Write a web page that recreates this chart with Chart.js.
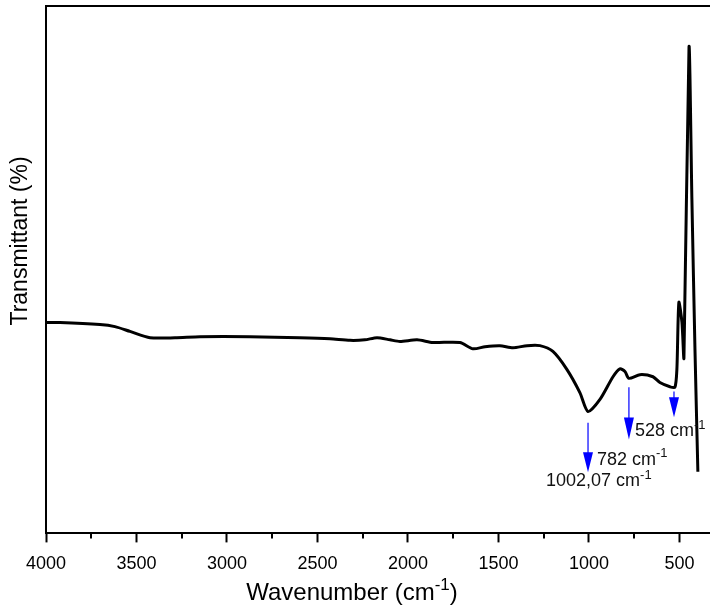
<!DOCTYPE html>
<html>
<head>
<meta charset="utf-8">
<script src="https://cdn.jsdelivr.net/npm/chart.js@4.4.0/dist/chart.umd.min.js"></script>
<style>
  body { margin: 0; background: #fff; }
  #wrap { width: 710px; height: 607px; }
</style>
</head>
<body>
<div id="wrap"><canvas id="ftirChart" width="710" height="607"></canvas></div>
<script>
// FTIR spectrum
const waveNumbers = [4000, 3923, 3702, 3619, 3536, 3425, 3287, 3149, 2873, 2597,
    2431, 2320, 2238, 2171, 2099, 2044, 1950, 1862, 1713, 1641,
    1574, 1492, 1420, 1342, 1271, 1199, 1122, 1050, 1005, 939,
    867, 829, 801, 779, 718, 646, 608, 552, 525, 514,
    503, 486, 475, 447, 431, 414, 398];
const transmittance = [40.0, 40.0, 39.6, 39.2, 38.3, 37.1, 37.1, 37.3, 37.3, 37.1,
    36.9, 36.6, 36.7, 37.1, 36.7, 36.4, 36.7, 36.2, 36.2, 35.0,
    35.4, 35.6, 35.2, 35.6, 35.6, 34.5, 31.1, 26.7, 23.1, 25.4,
    29.7, 31.2, 30.7, 29.4, 30.1, 29.7, 28.6, 27.8, 27.7, 31.1,
    43.8, 40.0, 33.3, 92.2, 63.3, 34.8, 11.7];
const majorTicks = [4000, 3500, 3000, 2500, 2000, 1500, 1000, 500];
const minorTicks = [3750, 3250, 2750, 2250, 1750, 1250, 750];
const peakWaves = [1005, 779, 530];
const peakLabels = ['1002,07', '782', '528'];

const FONT = "'Liberation Sans', Arial, sans-serif";

// text with a superscript "-1"
function drawUnit(ctx, text, x, y, size) {
    ctx.font = size + 'px ' + FONT;
    ctx.textAlign = 'left';
    ctx.textBaseline = 'alphabetic';
    ctx.fillText(text, x, y);
    const w = ctx.measureText(text).width;
    ctx.font = Math.round(size * 0.7) + 'px ' + FONT;
    ctx.fillText('-1', x + w, y - size * 0.42);
    return w + ctx.measureText('-1').width;
}

const extras = {
    id: 'extras',
    afterDraw(chart) {
        const { ctx, chartArea, scales } = chart;
        const xs = scales.x, ys = scales.y;
        ctx.save();
        ctx.strokeStyle = '#000';
        ctx.fillStyle = '#000';

        // top frame line
        ctx.lineWidth = 2;
        ctx.beginPath();
        ctx.moveTo(chartArea.left, chartArea.top);
        ctx.lineTo(chartArea.right, chartArea.top);
        ctx.stroke();

        // minor ticks
        minorTicks.forEach(v => {
            const px = Math.round(xs.getPixelForValue(v));
            ctx.beginPath();
            ctx.moveTo(px, chartArea.bottom);
            ctx.lineTo(px, chartArea.bottom + 5);
            ctx.stroke();
        });

        // x title
        const tSize = 24;
        ctx.font = tSize + 'px ' + FONT;
        const base = 'Wavenumber (cm';
        const wb = ctx.measureText(base).width;
        ctx.font = Math.round(tSize * 0.7) + 'px ' + FONT;
        const ws = ctx.measureText('-1').width;
        ctx.font = tSize + 'px ' + FONT;
        const wc = ctx.measureText(')').width;
        let tx = 352 - (wb + ws + wc) / 2;
        const ty = 600;
        drawUnit(ctx, base, tx, ty, tSize);
        ctx.font = tSize + 'px ' + FONT;
        ctx.fillText(')', tx + wb + ws, ty);

        // y title
        ctx.save();
        ctx.translate(27, 241);
        ctx.rotate(-Math.PI / 2);
        ctx.font = '23px ' + FONT;
        ctx.textAlign = 'center';
        ctx.textBaseline = 'alphabetic';
        ctx.fillText('Transmittant (%)', 0, 0);
        ctx.restore();

        // peak arrows
        const arrowSpec = [
            { top: 21.0, bottom: 11.6, head: 20, lx: -42, ly: 14 },
            { top: 27.7, bottom: 17.8, head: 22, lx: -32, ly: 25 },
            { top: 26.9, bottom: 22.0, head: 20, lx: -39, ly: 19 }
        ];
        ctx.strokeStyle = '#0000ff';
        ctx.fillStyle = '#0000ff';
        peakWaves.forEach((w, i) => {
            const s = arrowSpec[i];
            const px = xs.getPixelForValue(w);
            const y0 = ys.getPixelForValue(s.top);
            const y1 = ys.getPixelForValue(s.bottom);
            ctx.lineWidth = 1.2;
            ctx.beginPath();
            ctx.moveTo(px, y0);
            ctx.lineTo(px, y1 - s.head + 2);
            ctx.stroke();
            ctx.beginPath();
            ctx.moveTo(px - 5, y1 - s.head);
            ctx.lineTo(px + 5, y1 - s.head);
            ctx.lineTo(px, y1);
            ctx.closePath();
            ctx.fill();
        });
        ctx.fillStyle = '#111';
        peakWaves.forEach((w, i) => {
            const s = arrowSpec[i];
            const px = xs.getPixelForValue(w);
            const y1 = ys.getPixelForValue(s.bottom);
            drawUnit(ctx, peakLabels[i] + ' cm', px + s.lx, y1 + s.ly, 18);
        });
        ctx.restore();
    }
};

new Chart(document.getElementById('ftirChart'), {
    type: 'line',
    data: {
        datasets: [{
            data: waveNumbers.map((w, i) => ({ x: w, y: transmittance[i] })),
            borderColor: '#000',
            borderWidth: 3,
            pointRadius: 0,
            tension: 0.25,
            fill: false
        }]
    },
    options: {
        responsive: false,
        animation: false,
        layout: { padding: { left: 38, right: 0, top: 6, bottom: 21 } },
        plugins: { legend: { display: false }, tooltip: { enabled: false } },
        scales: {
            x: {
                type: 'linear',
                reverse: true,
                min: 331,
                max: 4000,
                afterBuildTicks: axis => { axis.ticks = majorTicks.map(v => ({ value: v })); },
                grid: { display: true, drawOnChartArea: false, tickLength: 9, tickWidth: 2, tickColor: '#000' },
                border: { color: '#000', width: 2 },
                ticks: {
                    color: '#000',
                    font: { family: FONT, size: 18 },
                    padding: 11,
                    maxRotation: 0,
                    autoSkip: false,
                    callback: v => String(v)
                }
            },
            y: {
                min: 0,
                max: 100,
                grid: { display: false },
                border: { color: '#000', width: 2 },
                ticks: { display: false }
            }
        }
    },
    plugins: [extras]
});
</script>
</body>
</html>
